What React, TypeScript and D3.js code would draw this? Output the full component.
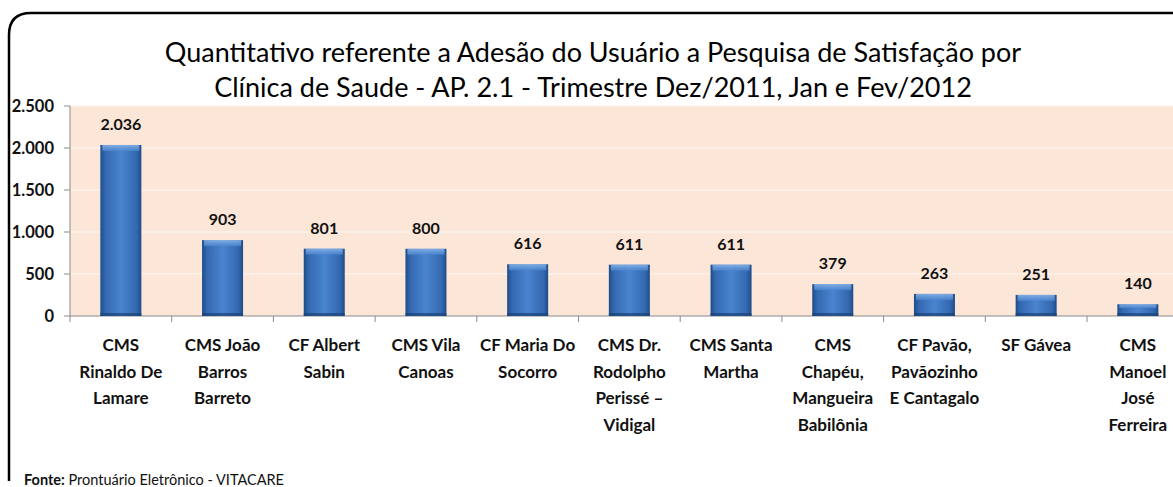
import React from "react";
import * as d3 from "d3";

const W = 1173;
const H = 487;

const titleLines = [
  "Quantitativo referente a Adesão do Usuário a Pesquisa de Satisfação por",
  "Clínica de Saude - AP. 2.1 - Trimestre Dez/2011, Jan e Fev/2012",
];

const clinics = [
  ["CMS", "Rinaldo De", "Lamare"],
  ["CMS João", "Barros", "Barreto"],
  ["CF Albert", "Sabin"],
  ["CMS Vila", "Canoas"],
  ["CF Maria  Do", "Socorro"],
  ["CMS Dr.", "Rodolpho", "Perissé –", "Vidigal"],
  ["CMS Santa", "Martha"],
  ["CMS", "Chapéu,", "Mangueira", "Babilônia"],
  ["CF Pavão,", "Pavãozinho", "E Cantagalo"],
  ["SF Gávea"],
  ["CMS", "Manoel", "José", "Ferreira"],
];

const adesoes = [2036, 903, 801, 800, 616, 611, 611, 379, 263, 251, 140];

const yTicks = [0, 500, 1000, 1500, 2000, 2500];

const FONT = "Lato, 'Open Sans', sans-serif";
const fmt = (v: number) => d3.format(",")(v).replace(/,/g, ".");

export default function App() {
  const left = 70;
  const step = 101.7;
  const x = d3
    .scaleBand<number>()
    .domain(d3.range(clinics.length))
    .range([left, left + step * clinics.length])
    .padding(0);
  const y = d3.scaleLinear().domain([0, 2500]).range([316, 106]);
  const barW = 41;

  return (
    <div style={{ position: "fixed", left: 0, top: 0 }}>
      <svg width={W} height={H} style={{ display: "block", background: "#fff" }}>
        <defs>
          <linearGradient id="barGrad" x1="0" x2="1" y1="0" y2="0">
            <stop offset="0" stopColor="#1f4c88" />
            <stop offset="0.12" stopColor="#3369b0" />
            <stop offset="0.5" stopColor="#4a84cf" />
            <stop offset="0.88" stopColor="#3369b0" />
            <stop offset="1" stopColor="#1f4c88" />
          </linearGradient>
          <linearGradient id="capGrad" x1="0" x2="0" y1="0" y2="1">
            <stop offset="0" stopColor="#8fb8ea" />
            <stop offset="1" stopColor="#4a84cf" />
          </linearGradient>
        </defs>

        {/* plot background */}
        <rect x={left} y={y(2500)} width={W - left} height={y(0) - y(2500)} fill="#fbe6d8" />
        {yTicks.slice(1).map((t) => (
          <line key={t} x1={left} x2={W} y1={y(t)} y2={y(t)} stroke="#fdf2ea" strokeWidth={1.5} />
        ))}

        {/* y axis */}
        <line x1={left} x2={left} y1={y(2500)} y2={y(0)} stroke="#8a8a8a" />
        {yTicks.map((t) => (
          <g key={t}>
            <line x1={left - 6} x2={left} y1={y(t)} y2={y(t)} stroke="#8a8a8a" />
            <text
              x={left - 16}
              y={y(t) + 5.5}
              textAnchor="end"
              fontFamily={FONT}
              fontWeight={700}
              fontSize={16.5}
              fill="#111"
            >
              {fmt(t)}
            </text>
          </g>
        ))}

        {/* x axis */}
        <line x1={left} x2={W} y1={y(0)} y2={y(0)} stroke="#8a8a8a" />
        {clinics.map((_, i) => (
          <line
            key={i}
            x1={x(i)!}
            x2={x(i)!}
            y1={y(0)}
            y2={y(0) + 6}
            stroke="#8a8a8a"
          />
        ))}

        {/* bars */}
        {adesoes.map((v, i) => {
          const cx = x(i)! + x.bandwidth() / 2;
          const top = y(v);
          const cap = Math.min(6, (y(0) - top) / 3);
          return (
            <g key={i}>
              <rect x={cx - barW / 2} y={top} width={barW} height={y(0) - top} fill="url(#barGrad)" />
              <rect x={cx - barW / 2 + 2} y={top} width={barW - 4} height={cap} fill="url(#capGrad)" opacity={0.8} />
              <rect x={cx - barW / 2} y={y(0) - 3} width={barW} height={3} fill="#1a4176" opacity={0.7} />
              <text
                x={cx}
                y={top - 15}
                textAnchor="middle"
                fontFamily={FONT}
                fontWeight={700}
                fontSize={16}
                fill="#111"
              >
                {fmt(v)}
              </text>
            </g>
          );
        })}

        {/* category labels */}
        {clinics.map((lines, i) => {
          const cx = x(i)! + x.bandwidth() / 2;
          return (
            <text
              key={i}
              textAnchor="middle"
              fontFamily={FONT}
              fontWeight={700}
              fontSize={17}
              fill="#111"
            >
              {lines.map((l, j) => (
                <tspan key={j} x={cx} y={351 + j * 26.5}>
                  {l}
                </tspan>
              ))}
            </text>
          );
        })}

        {/* title */}
        {titleLines.map((t, i) => (
          <text
            key={i}
            x={593}
            y={62 + i * 35}
            textAnchor="middle"
            fontFamily={FONT}
            fontSize={27}
            fill="#000"
          >
            {t}
          </text>
        ))}

        {/* frame */}
        <path
          d={`M9,${H - 6} L9,35 Q9,13 31,13 L${W},13`}
          fill="none"
          stroke="#000"
          strokeWidth={2.5}
        />

        <text x={24} y={485} fontFamily={FONT} fontSize={14.5} fill="#111">
          <tspan fontWeight={700}>Fonte:</tspan>
          <tspan> Prontuário Eletrônico - VITACARE</tspan>
        </text>
      </svg>
    </div>
  );
}
